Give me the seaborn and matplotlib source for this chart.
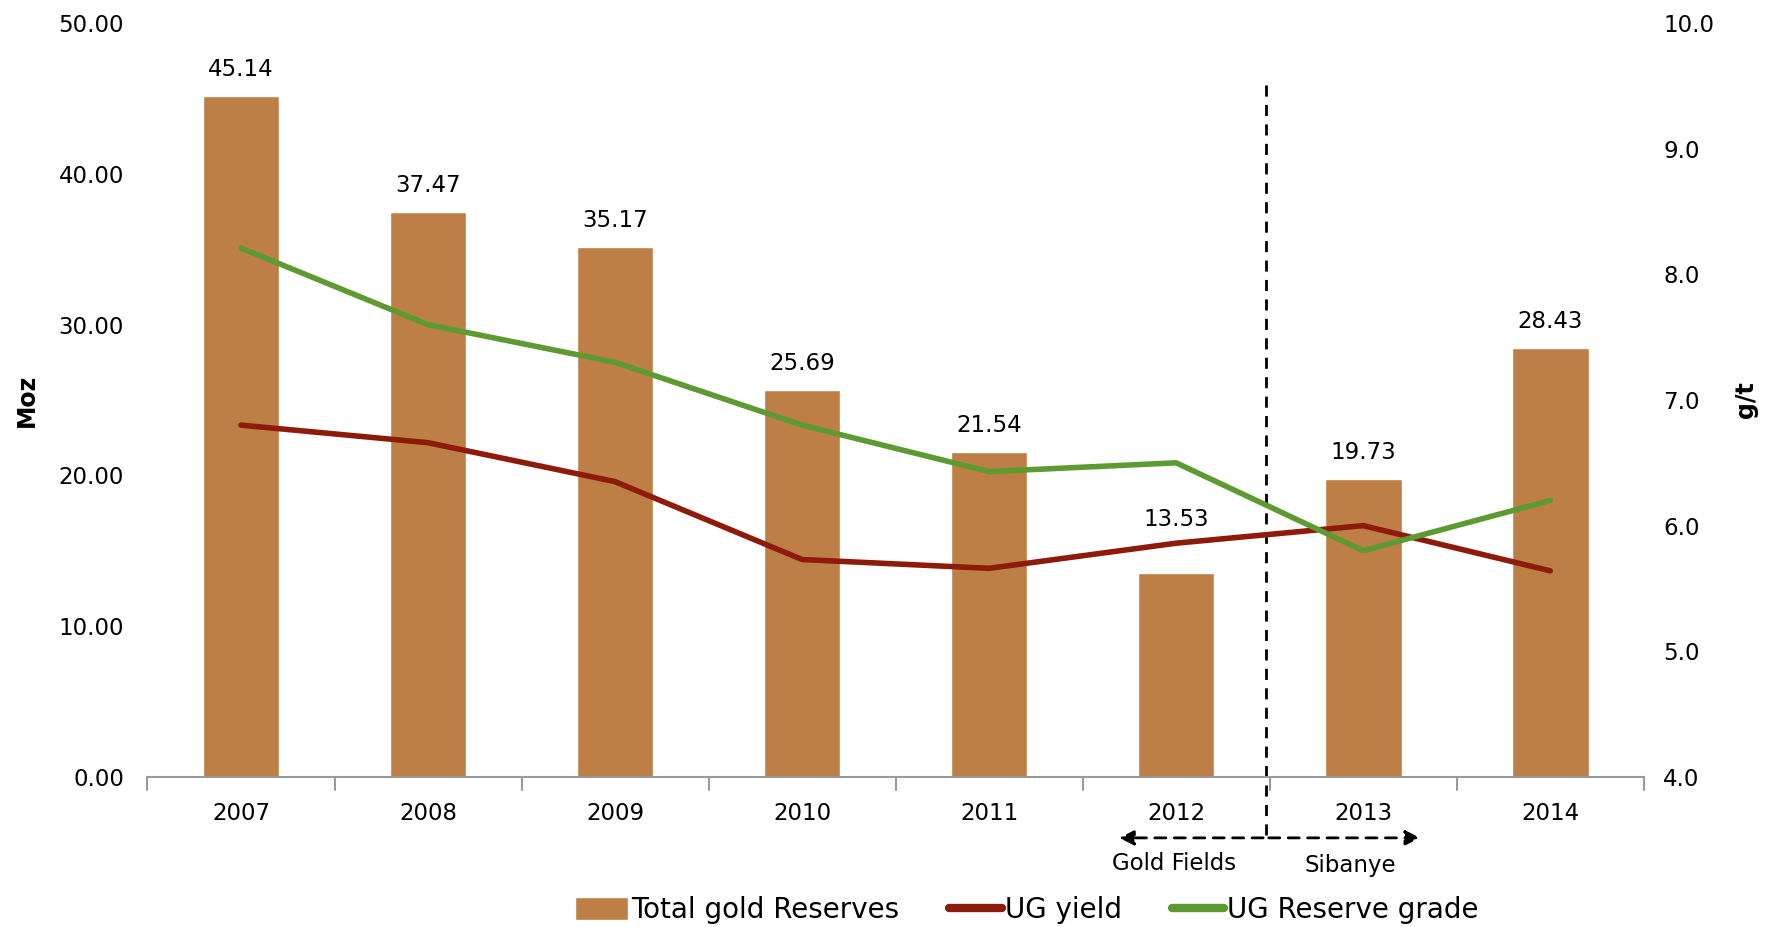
import numpy as np
import matplotlib
matplotlib.use("Agg")
import matplotlib.pyplot as plt
import seaborn as sns
from matplotlib.patches import Patch
from matplotlib.lines import Line2D

years = ["2007", "2008", "2009", "2010", "2011", "2012", "2013", "2014"]
total_reserves = [45.14, 37.47, 35.17, 25.69, 21.54, 13.53, 19.73, 28.43]
ug_yield = [6.80, 6.66, 6.35, 5.73, 5.66, 5.86, 6.00, 5.64]
ug_grade = [8.21, 7.60, 7.30, 6.80, 6.43, 6.50, 5.80, 6.20]

BAR_COLOR = "#BD7F45"
YIELD_COLOR = "#8E1A0A"
GRADE_COLOR = "#5E9A32"

sns.set_style("white")
plt.rcParams["font.family"] = ["DejaVu Sans"]
plt.rcParams["text.color"] = "black"
plt.rcParams["axes.labelcolor"] = "black"
plt.rcParams["xtick.color"] = "black"
plt.rcParams["ytick.color"] = "black"

fig, ax = plt.subplots(figsize=(17.77, 9.27), dpi=100)
fig.subplots_adjust(left=0.083, right=0.925, top=0.975, bottom=0.162)

sns.barplot(x=years, y=total_reserves, color=BAR_COLOR, width=0.41,
            saturation=1, ax=ax)
for i, v in enumerate(total_reserves):
    # the 2012 label sits above the yield line in the original
    y = v + 1.0 if i != 5 else v + 2.8
    ax.text(i, y, f"{v:.2f}", ha="center", va="bottom", fontsize=16.5)

ax.set_ylim(0, 50)
ax.set_xlim(-0.5, 7.5)
ax.set_yticks(np.arange(0, 51, 10))
ax.set_yticklabels([f"{t:.2f}" for t in np.arange(0, 51, 10)], fontsize=16.5)
ax.set_ylabel("Moz", fontsize=17, fontweight="bold", labelpad=14)
ax.tick_params(axis="x", labelsize=16.5, length=0, pad=18)
ax.tick_params(axis="y", length=0, pad=17)
for s in ["top", "right", "left"]:
    ax.spines[s].set_visible(False)
ax.spines["bottom"].set_color("#9a9a9a")
ax.spines["bottom"].set_linewidth(1.5)
for b in np.arange(-0.5, 8.0, 1.0):
    ax.plot([b, b], [0, -0.9], color="#9a9a9a", lw=1.5, clip_on=False)

ax2 = ax.twinx()
sns.lineplot(x=np.arange(len(years)), y=ug_yield, color=YIELD_COLOR, lw=4,
             sort=False, ax=ax2)
sns.lineplot(x=np.arange(len(years)), y=ug_grade, color=GRADE_COLOR, lw=4,
             sort=False, ax=ax2)
ax2.set_ylim(4, 10)
ax2.set_yticks(np.arange(4, 10.1, 1))
ax2.set_yticklabels([f"{t:.1f}" for t in np.arange(4, 10.1, 1)], fontsize=16.5)
ax2.tick_params(axis="y", length=0, pad=14)
ax2.set_ylabel("g/t", fontsize=17, fontweight="bold", labelpad=14)
for s in ["top", "right", "left", "bottom"]:
    ax2.spines[s].set_visible(False)

# Gold Fields / Sibanye split
split_x = 5.48
ax.plot([split_x, split_x], [45.9, -4.05], color="black", lw=2,
        ls=(0, (4, 3)), clip_on=False)
for end in (4.68, 6.32):
    ax.annotate("", xy=(end, -4.05), xytext=(split_x, -4.05),
                arrowprops=dict(arrowstyle="-|>", color="black", lw=2,
                                ls=(0, (4, 3)), mutation_scale=22),
                annotation_clip=False)
ax.text(4.99, -5.75, "Gold Fields", ha="center", va="center", fontsize=16.5)
ax.text(5.93, -5.85, "Sibanye", ha="center", va="center", fontsize=16.5)

handles = [
    Patch(facecolor=BAR_COLOR, label="Total gold Reserves"),
    Line2D([0], [0], color=YIELD_COLOR, lw=6, solid_capstyle="round",
           label="UG yield"),
    Line2D([0], [0], color=GRADE_COLOR, lw=6, solid_capstyle="round",
           label="UG Reserve grade"),
]
fig.legend(handles=handles, loc="center", ncol=3, frameon=False,
           fontsize=20, bbox_to_anchor=(0.578, 0.018), handlelength=1.9,
           handleheight=0.9, handletextpad=0.1, columnspacing=1.8)

fig.savefig("out.png", dpi=100)
